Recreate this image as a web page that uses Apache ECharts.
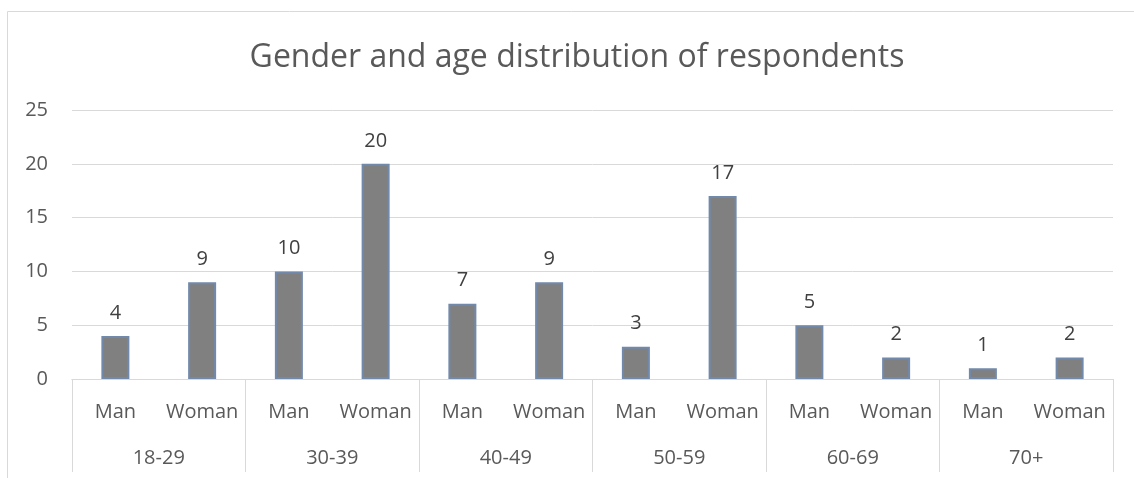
<!DOCTYPE html>
<html>
<head>
<meta charset="utf-8">
<script src="https://cdn.jsdelivr.net/npm/echarts@6/dist/echarts.min.js"></script>
<style>
html,body{margin:0;padding:0;background:#fff;}
#c{width:1134px;height:478px;}
</style>
</head>
<body>
<div id="c"></div>
<script>
const titleText = 'Gender and age distribution of respondents';
const genders = ['Man','Woman','Man','Woman','Man','Woman','Man','Woman','Man','Woman','Man','Woman'];
const ageGroups = ['18-29','30-39','40-49','50-59','60-69','70+'];
const counts = [4, 9, 10, 20, 7, 9, 3, 17, 5, 2, 1, 2];
const yTicks = [0, 5, 10, 15, 20, 25];

const FONT = 'Open Sans';
const chart = echarts.init(document.getElementById('c'));
chart.setOption({
  animation: false,
  textStyle: {fontFamily: FONT},
  graphic: [
    {type:'rect', shape:{x:7.5, y:11.5, width:1200, height:600}, style:{fill:'none', stroke:'#d9d9d9', lineWidth:1}, silent:true, z:-10},
    {type:'text', x:577, y:58, style:{text:titleText, fontFamily:FONT, fontSize:32, fill:'#595959', textAlign:'center', textVerticalAlign:'middle'}}
  ],
  grid: {left:72, right:21, top:110, bottom:99, containLabel:false},
  xAxis: [
    {type:'category', data:genders, position:'bottom',
     axisLine:{show:true, lineStyle:{color:'#d9d9d9', width:1}},
     axisTick:{show:false},
     axisLabel:{color:'#595959', fontSize:20, margin:23, interval:0}},
    {type:'category', data:ageGroups, position:'bottom',
     axisLine:{show:true, lineStyle:{color:'#d9d9d9', width:1}},
     axisTick:{show:true, length:93, lineStyle:{color:'#d9d9d9', width:1}},
     axisLabel:{color:'#595959', fontSize:20, margin:69, interval:0}}
  ],
  yAxis: {type:'value', min:yTicks[0], max:yTicks[yTicks.length-1], interval:5,
    axisLine:{show:false}, axisTick:{show:false},
    splitLine:{lineStyle:{color:'#d9d9d9', width:1}},
    axisLabel:{color:'#595959', fontSize:20, margin:24}},
  series: [{
    type:'bar', xAxisIndex:0, data:counts, barWidth:28,
    itemStyle:{color:'#808080', borderColor:'#7189ab', borderWidth:2},
    label:{show:true, position:'top', distance:13, color:'#404040', fontSize:20, fontFamily:FONT}
  }]
});
</script>
</body>
</html>
